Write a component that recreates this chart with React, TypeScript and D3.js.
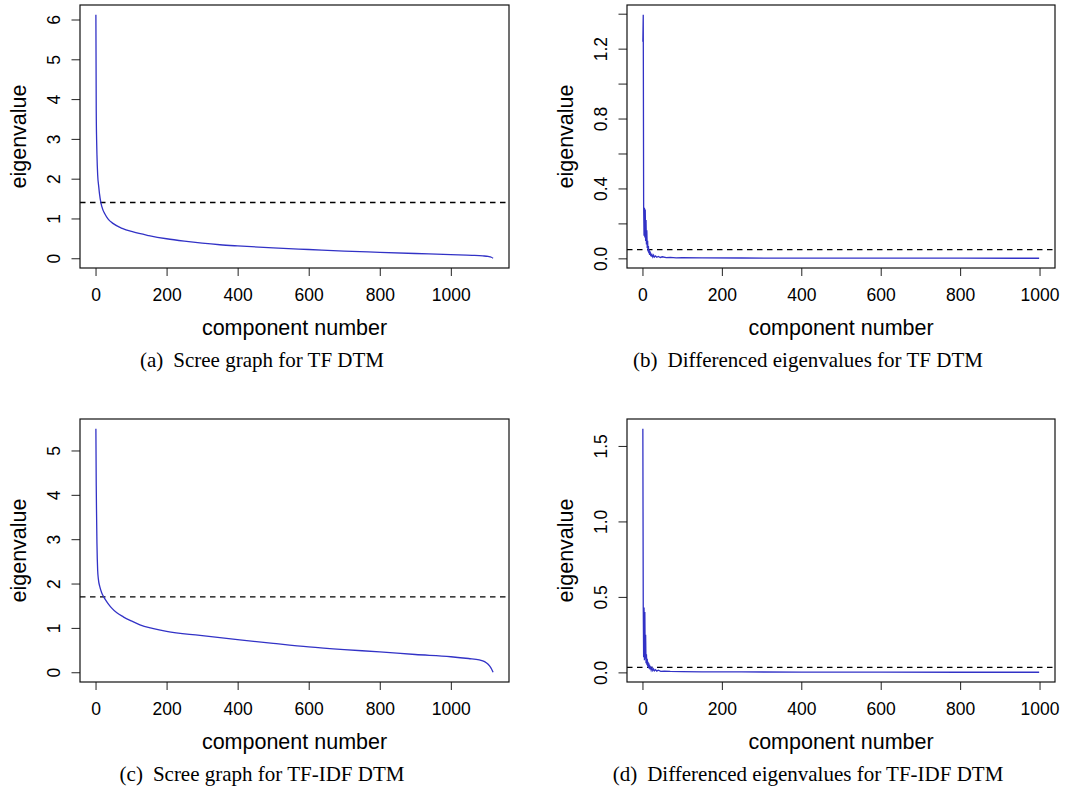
import React, { useEffect, useRef } from 'react';
import * as d3 from 'd3';

const W = 1068;
const H = 793;

// (a) scree graph, TF DTM
const tfComp = [1, 2, 3, 4, 6, 9, 11, 15, 21, 26, 35, 50, 75, 106, 150, 200, 250, 300, 350, 400, 500, 600, 700, 800, 900, 1000, 1060, 1090, 1105, 1114, 1119];
const tfEig = [6.12, 3.7, 3.0, 2.6, 2.1, 1.8, 1.63, 1.4, 1.21, 1.12, 0.99, 0.87, 0.75, 0.66, 0.57, 0.49, 0.43, 0.38, 0.34, 0.31, 0.26, 0.22, 0.18, 0.15, 0.12, 0.09, 0.075, 0.06, 0.045, 0.025, 0.0];

// (b) differenced eigenvalues, TF DTM
const tfDiffComp = [1, 2, 3, 4, 5, 6, 7, 8, 9, 10, 11, 12, 13, 14, 15, 16, 17, 18, 19, 20, 21, 22, 23, 24, 26, 28, 30, 33, 36, 40, 45, 50, 60, 70, 85, 100, 150, 250, 400, 600, 800, 999];
const tfDiff = [1.24, 1.394, 0.3, 0.13, 0.29, 0.12, 0.28, 0.1, 0.22, 0.08, 0.16, 0.06, 0.1, 0.04, 0.07, 0.03, 0.05, 0.02, 0.04, 0.03, 0.012, 0.025, 0.01, 0.02, 0.008, 0.018, 0.007, 0.014, 0.006, 0.011, 0.005, 0.009, 0.004, 0.006, 0.003, 0.004, 0.003, 0.002, 0.0015, 0.001, 0.0008, 0.0005];

// (c) scree graph, TF-IDF DTM
const idfComp = [1, 2, 3, 4, 6, 8, 12, 17, 23, 30, 38, 45, 60, 78, 100, 125, 160, 200, 294, 406, 500, 600, 700, 800, 900, 1000, 1050, 1080, 1095, 1105, 1112, 1119];
const idfEig = [5.49, 4.2, 3.5, 2.9, 2.3, 2.1, 1.93, 1.8, 1.7, 1.61, 1.52, 1.45, 1.34, 1.25, 1.16, 1.07, 0.99, 0.92, 0.83, 0.73, 0.65, 0.57, 0.51, 0.46, 0.4, 0.35, 0.31, 0.28, 0.24, 0.18, 0.11, 0.0];

// (d) differenced eigenvalues, TF-IDF DTM
const idfDiffComp = [1, 2, 3, 4, 5, 6, 7, 8, 9, 10, 11, 12, 13, 14, 15, 16, 17, 18, 19, 20, 22, 24, 26, 28, 30, 33, 36, 40, 46, 55, 70, 100, 150, 250, 400, 600, 800, 999];
const idfDiff = [1.614, 0.43, 0.1, 0.43, 0.08, 0.4, 0.09, 0.25, 0.06, 0.12, 0.05, 0.09, 0.04, 0.07, 0.03, 0.06, 0.025, 0.05, 0.02, 0.04, 0.015, 0.03, 0.012, 0.022, 0.01, 0.018, 0.008, 0.014, 0.007, 0.008, 0.006, 0.005, 0.004, 0.003, 0.002, 0.0015, 0.001, 0.0008];

// cut-off lines
const cutoffs = [1.4, 0.05, 1.7, 0.033];

// ticks
const xTicks = [0, 200, 400, 600, 800, 1000];
const tfYTicks = [0, 1, 2, 3, 4, 5, 6];
const tfDiffYTicks = [0, 0.2, 0.4, 0.6, 0.8, 1.0, 1.2, 1.4];
const tfDiffYLabels = ['0.0', '', '0.4', '', '0.8', '', '1.2', ''];
const idfYTicks = [0, 1, 2, 3, 4, 5];
const idfDiffYTicks = [0, 0.5, 1.0, 1.5];
const idfDiffYLabels = ['0.0', '0.5', '1.0', '1.5'];

const captionTags = ['(a)', '(b)', '(c)', '(d)'];
const captionTexts = [
  'Scree graph for TF DTM',
  'Differenced eigenvalues for TF DTM',
  'Scree graph for TF-IDF DTM',
  'Differenced eigenvalues for TF-IDF DTM',
];

const SANS = 'Liberation Sans, Arial, Helvetica, sans-serif';
const SERIF = 'Liberation Serif, Times New Roman, serif';
const BLUE = '#3232c6';

const App = () => {
  const svgRef = useRef<SVGSVGElement>(null);

  useEffect(() => {
    const svg = d3.select(svgRef.current);
    svg.selectAll('*').remove();

    const panels = [
      { comp: tfComp, vals: tfEig, yTicks: tfYTicks, yLabels: tfYTicks.map(String), box: [80, 5, 509, 268], smooth: true, capX: 262, capY: 367 },
      { comp: tfDiffComp, vals: tfDiff, yTicks: tfDiffYTicks, yLabels: tfDiffYLabels, box: [627, 5, 1055, 268], smooth: false, capX: 808, capY: 367 },
      { comp: idfComp, vals: idfEig, yTicks: idfYTicks, yLabels: idfYTicks.map(String), box: [80, 419, 509, 682], smooth: true, capX: 262, capY: 781 },
      { comp: idfDiffComp, vals: idfDiff, yTicks: idfDiffYTicks, yLabels: idfDiffYLabels, box: [627, 419, 1055, 682], smooth: false, capX: 808, capY: 781 },
    ];

    panels.forEach((p, i) => {
      const [x0, y0, x1, y1] = p.box;
      const g = svg.append('g');

      // R style 4% padding
      const [cMin, cMax] = d3.extent(p.comp) as [number, number];
      const [vMin, vMax] = d3.extent(p.vals) as [number, number];
      const cPad = (cMax - cMin) * 0.04;
      const vPad = (vMax - vMin) * 0.04;
      const x = d3.scaleLinear().domain([cMin - cPad, cMax + cPad]).range([x0, x1]);
      const y = d3.scaleLinear().domain([vMin - vPad, vMax + vPad]).range([y1, y0]);

      // x axis
      const xAxis = g.append('g')
        .attr('transform', `translate(0, ${y1})`)
        .call(d3.axisBottom(x).tickValues(xTicks).tickSize(8).tickPadding(12.5).tickFormat(d3.format('d')));
      xAxis.select('.domain').remove();
      xAxis.selectAll('line').attr('stroke', '#222');
      xAxis.selectAll('text')
        .attr('font-family', SANS)
        .attr('font-size', 17.5)
        .attr('fill', '#000');

      // y axis
      const yAxis = g.append('g')
        .attr('transform', `translate(${x0}, 0)`)
        .call(d3.axisLeft(y).tickValues(p.yTicks).tickSize(8.5).tickFormat((d, k) => p.yLabels[k]));
      yAxis.select('.domain').remove();
      yAxis.selectAll('line').attr('stroke', '#222');
      yAxis.selectAll('text')
        .attr('x', null)
        .attr('dy', null)
        .attr('transform', 'translate(-20.5, 0) rotate(-90)')
        .attr('text-anchor', 'middle')
        .attr('font-family', SANS)
        .attr('font-size', 17.5)
        .attr('fill', '#000');

      // cut-off
      g.append('line')
        .attr('x1', x0).attr('x2', x1)
        .attr('y1', y(cutoffs[i])).attr('y2', y(cutoffs[i]))
        .attr('stroke', '#000')
        .attr('stroke-width', 1.4)
        .attr('stroke-dasharray', '5.5,4.5');

      // series
      const line = d3.line<number>()
        .x((d, k) => x(p.comp[k]))
        .y((d) => y(d))
        .curve(p.smooth ? d3.curveMonotoneX : d3.curveLinear);
      g.append('path')
        .datum(p.vals)
        .attr('d', line)
        .attr('fill', 'none')
        .attr('stroke', BLUE)
        .attr('stroke-width', 1.3);

      // box
      g.append('rect')
        .attr('x', x0).attr('y', y0)
        .attr('width', x1 - x0).attr('height', y1 - y0)
        .attr('fill', 'none')
        .attr('stroke', '#111')
        .attr('stroke-width', 1.2);

      // axis titles
      g.append('text')
        .attr('x', (x0 + x1) / 2)
        .attr('y', y1 + 67)
        .attr('text-anchor', 'middle')
        .attr('font-family', SANS)
        .attr('font-size', 21.5)
        .text('component number');
      g.append('text')
        .attr('transform', `translate(${x0 - 54}, ${(y0 + y1) / 2}) rotate(-90)`)
        .attr('text-anchor', 'middle')
        .attr('font-family', SANS)
        .attr('font-size', 21.5)
        .text('eigenvalue');

      // caption
      const cap = g.append('text')
        .attr('x', p.capX)
        .attr('y', p.capY)
        .attr('text-anchor', 'middle')
        .attr('font-family', SERIF)
        .attr('font-size', 21);
      cap.append('tspan').text(captionTags[i]);
      cap.append('tspan').attr('dx', 10).text(captionTexts[i]);
    });
  }, []);

  return (
    <div style={{ position: 'absolute', left: 0, top: 0, width: W, height: H, background: '#fff' }}>
      <svg ref={svgRef} width={W} height={H}></svg>
    </div>
  );
};

export default App;
